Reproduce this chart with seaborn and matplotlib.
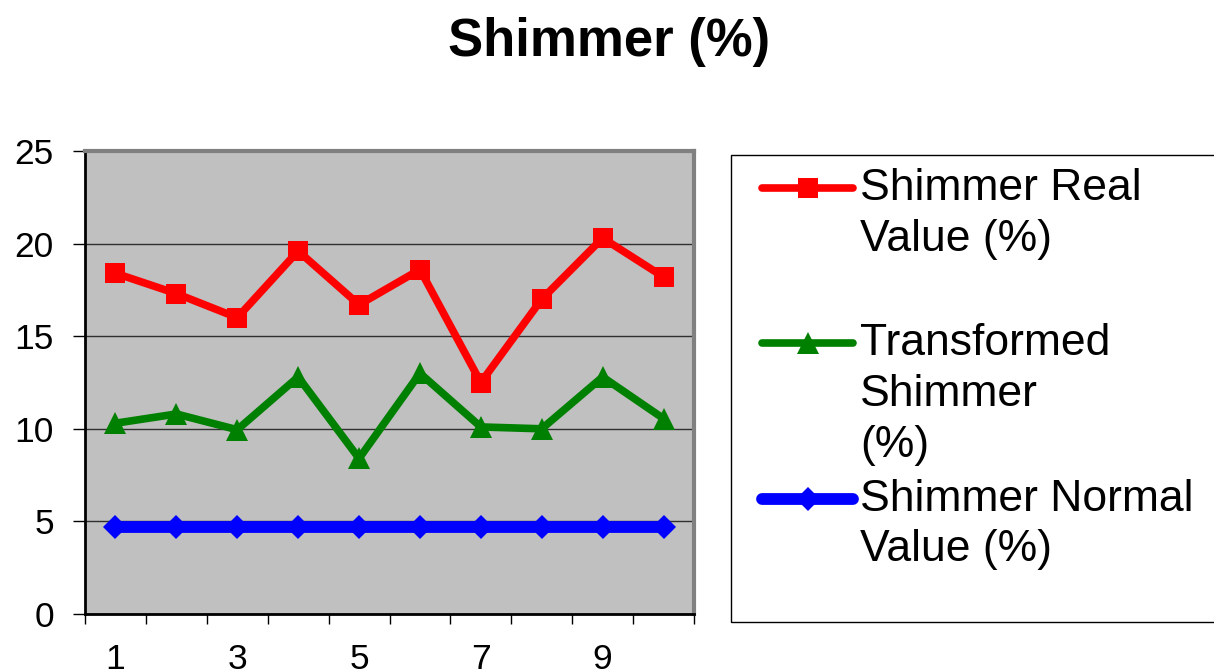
import numpy as np
import seaborn as sns
import matplotlib.pyplot as plt
from matplotlib.legend_handler import HandlerLine2D
from matplotlib.patches import Rectangle

# values
points = [1, 2, 3, 4, 5, 6, 7, 8, 9, 10]
real_values = [18.4, 17.3, 16.0, 19.6, 16.7, 18.6, 12.5, 17.0, 20.3, 18.2]
transformed_values = [10.3, 10.8, 9.95, 12.8, 8.4, 13.0, 10.1, 10.0, 12.8, 10.55]
normal_values = [4.7, 4.7, 4.7, 4.7, 4.7, 4.7, 4.7, 4.7, 4.7, 4.7]
series_labels = ["Shimmer Real\nValue (%)\n",
                 "Transformed\nShimmer\n(%)",
                 "Shimmer Normal\nValue (%)"]

sns.set_style("ticks")
plt.rcParams['font.family'] = ['Liberation Sans', 'DejaVu Sans']
plt.rcParams['text.color'] = 'black'
plt.rcParams['xtick.color'] = 'black'
plt.rcParams['ytick.color'] = 'black'
plt.rcParams['axes.labelcolor'] = 'black'


class ShiftedLineHandler(HandlerLine2D):
    # moves the legend handle up so it sits next to the first text line
    def __init__(self, shift, **kw):
        super().__init__(**kw)
        self.shift = shift

    def create_artists(self, legend, orig_handle, xdescent, ydescent,
                       width, height, fontsize, trans):
        artists = super().create_artists(legend, orig_handle, xdescent, ydescent,
                                         width, height, fontsize, trans)
        for a in artists:
            a.set_ydata(np.asarray(a.get_ydata(), dtype=float) + self.shift * fontsize)
        return artists


fig = plt.figure(figsize=(12.14, 6.72), dpi=100)
ax = fig.add_axes([85 / 1214, 1 - 614 / 672, (694 - 85) / 1214, (614 - 151) / 672])
ax.set_facecolor('#c0c0c0')

sns.lineplot(x=points, y=real_values, color='#ff0000', marker='s', markersize=14.5,
             markeredgewidth=0, linewidth=5.5, ax=ax, label=series_labels[0])
sns.lineplot(x=points, y=transformed_values, color='#008000', marker='^', markersize=16,
             markeredgewidth=0, linewidth=5.5, ax=ax, label=series_labels[1])
sns.lineplot(x=points, y=normal_values, color='#0000ff', marker='D', markersize=12,
             markeredgewidth=0, linewidth=8.5, ax=ax, label=series_labels[2])

# axes, ticks, grid
ax.set_xlim(0.5, 10.5)
ax.set_ylim(0, 25)
ax.set_xticks(np.arange(0.5, 11, 1))
ax.set_xticklabels([])
ax.set_xticks([1, 3, 5, 7, 9], minor=True)
ax.set_xticklabels(['1', '3', '5', '7', '9'], minor=True)
ax.tick_params(axis='x', which='major', length=7, width=1, direction='out')
ax.tick_params(axis='x', which='minor', length=0, pad=21, labelsize=25.5)
ax.set_yticks([0, 5, 10, 15, 20, 25])
ax.tick_params(axis='y', length=8.5, width=1, direction='out', pad=14, labelsize=25.5)
ax.grid(axis='y', color='#303030', linewidth=1)
ax.set_axisbelow(True)

for side in ['left', 'bottom']:
    ax.spines[side].set_color('black')
    ax.spines[side].set_linewidth(2)
for side in ['top', 'right']:
    ax.spines[side].set_visible(True)
    ax.spines[side].set_color('#808080')
    ax.spines[side].set_linewidth(3)

# legend
handles, labels = ax.get_legend_handles_labels()
line_step = 1.17
shifts = [1.0 * line_step, 1.0 * line_step, 0.5 * line_step]
handler_map = {h: ShiftedLineHandler(s) for h, s in zip(handles, shifts)}
leg = ax.legend(handles, labels, handler_map=handler_map, loc='upper left',
                bbox_to_anchor=(762 / 1214, 1 - 168 / 672), bbox_transform=fig.transFigure,
                frameon=False, fontsize=32, borderpad=0, borderaxespad=0,
                handlelength=2.05, handletextpad=0.16, labelspacing=0.28)
for t in leg.get_texts():
    t.set_linespacing(1.31)
fig.add_artist(Rectangle((731 / 1214, 1 - 622 / 672), 0.6, (622 - 155) / 672,
                         transform=fig.transFigure, fill=False, edgecolor='black', linewidth=1))

fig.suptitle('Shimmer (%)', x=609 / 1214, y=1 - 42 / 672, va='center',
             fontsize=38, fontweight='bold')

fig.savefig('out.png', dpi=100)
